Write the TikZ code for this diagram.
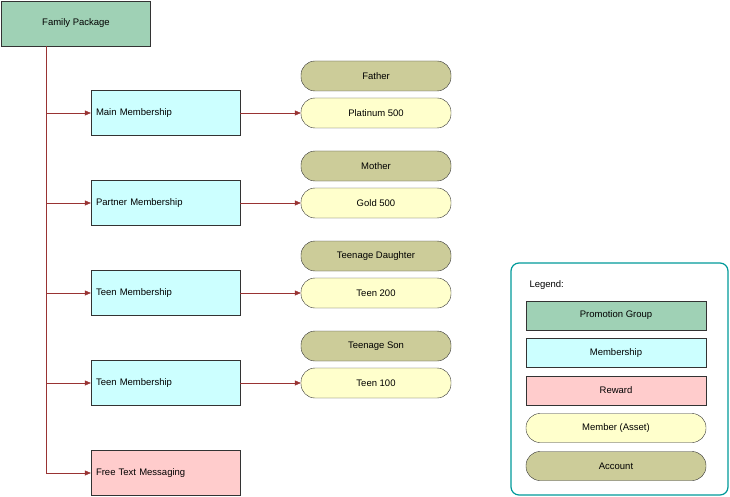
\documentclass[tikz,border=0pt]{standalone}
\usepackage{fontspec}
\setmainfont{Liberation Sans}
\usetikzlibrary{positioning,arrows.meta}
\definecolor{promo}{HTML}{9FD1B5}
\definecolor{memb}{HTML}{CCFFFF}
\definecolor{rewd}{HTML}{FFCCCC}
\definecolor{asset}{HTML}{FFFFCC}
\definecolor{acct}{HTML}{CCCC99}
\definecolor{wire}{HTML}{993333}
\definecolor{legbd}{HTML}{009999}
\tikzset{box/.style={draw=black!80, minimum width=149pt, minimum height=45pt, font=\fontsize{9.5}{11}\selectfont, inner sep=5pt}}
\tikzset{group/.style={box, fill=promo, align=center}}
\tikzset{membership/.style={box, fill=memb, text width=139pt, align=left}}
\tikzset{reward/.style={box, fill=rewd, text width=139pt, align=left}}
\tikzset{pill/.style={draw=black!80, rounded corners=14pt, minimum width=150pt, minimum height=30pt, font=\fontsize{9.5}{11}\selectfont}}
\tikzset{member/.style={pill, fill=asset}}
\tikzset{account/.style={pill, fill=acct}}
\tikzset{legitem/.style={draw=black!80, minimum width=180pt, minimum height=29pt, font=\fontsize{9.5}{11}\selectfont}}
\tikzset{link/.style={wire, -{Triangle[length=6pt,width=5pt]}}}
\begin{document}
\begin{tikzpicture}[x=1pt,y=-1pt]
\useasboundingbox (0,0) rectangle (730,497);
\node[group] (fam) at (76,23.5) {Family Package};
\node[membership] (m1) at (165.5,113) {Main Membership};
\node[membership] (m2) at (165.5,203) {Partner Membership};
\node[membership] (m3) at (165.5,293) {Teen Membership};
\node[membership] (m4) at (165.5,383) {Teen Membership};
\node[reward] (r1) at (165.5,473) {Free Text Messaging};
\node[account] (a1) at (376,76) {Father};
\node[member] (p1) at (376,113) {Platinum 500};
\node[account] (a2) at (376,166) {Mother};
\node[member] (p2) at (376,203) {Gold 500};
\node[account] (a3) at (376,256) {Teenage Daughter};
\node[member] (p3) at (376,293) {Teen 200};
\node[account] (a4) at (376,346) {Teenage Son};
\node[member] (p4) at (376,383) {Teen 100};
\coordinate (trunk) at (46,46.5);
\foreach \n in {m1,m2,m3,m4,r1}
  \draw[link] (trunk) |- (\n.west);
\foreach \i in {1,...,4}
  \draw[link] (m\i.east) -- (p\i.west);
% legend
\draw[legbd, line width=1.2pt, rounded corners=8pt] (511,263) rectangle (728,495);
\node[anchor=west, font=\fontsize{9.5}{11}\selectfont] (leg) at (526,285) {Legend:};
\node[legitem, fill=promo] (l1) at (616,315.5) {Promotion Group};
\node[legitem, fill=memb] (l2) at (616,353) {Membership};
\node[legitem, fill=rewd] (l3) at (616,390.5) {Reward};
\node[legitem, fill=asset, rounded corners=14pt] (l4) at (616,428) {Member (Asset)};
\node[legitem, fill=acct, rounded corners=14pt] (l5) at (616,466) {Account};
\end{tikzpicture}
\end{document}
